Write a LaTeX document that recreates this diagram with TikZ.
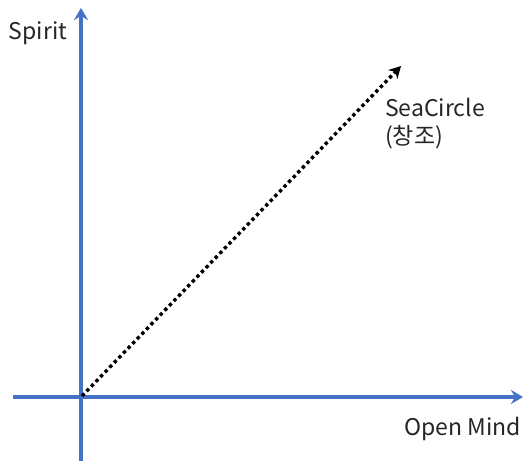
\documentclass[tikz,border=0pt]{standalone}
\usepackage{fontspec}
\setmainfont{Noto Sans CJK KR}
\usetikzlibrary{arrows.meta}
\definecolor{axisblue}{RGB}{68,114,196}
\begin{document}
\begin{tikzpicture}[x=1pt,y=-1pt,
  axis/.style={draw=axisblue,line width=3.2pt,-{Stealth[length=12pt,width=14pt,inset=4pt]}},
  vec/.style={draw=black,line width=3.4pt,dash pattern=on 3.4pt off 3.2pt,-{Stealth[length=12pt,width=13pt,inset=4pt,line width=0pt]}},
  lbl/.style={font=\fontsize{23}{28}\selectfont,inner sep=0pt,text=black!85}]
\useasboundingbox (0,0) rectangle (524,461);
\coordinate (xs) at (13,397);
\coordinate (xe) at (523,397);
\coordinate (ys) at (81,461);
\coordinate (ye) at (81,8);
\coordinate (o) at (82,396);
\coordinate (v) at (401,66);
\draw[axis] (xs) -- (xe);
\draw[axis] (ys) -- (ye);
\draw[vec] (o) -- (v);
\node[lbl] (spirit) at (38,33) {Spirit};
\node[lbl,anchor=east] (open) at (521,429) {Open Mind};
\node[lbl,anchor=west,align=left] (sea) at (385,124) {SeaCircle\\(창조)};
\end{tikzpicture}
\end{document}
